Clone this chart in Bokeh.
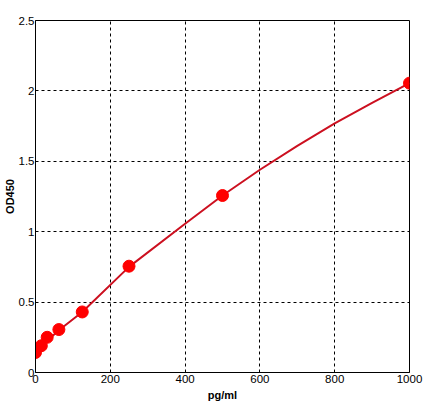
from bokeh.plotting import figure
from bokeh.embed import file_html
from bokeh.resources import INLINE
from bokeh.models import FixedTicker

# standards (pg/ml) and measured OD450
conc = [0, 15.6, 31.25, 62.5, 125, 250, 500, 1000]
od = [0.142, 0.19, 0.25, 0.305, 0.43, 0.755, 1.257, 2.055]

# fitted curve
curve_x = [0, 15.6, 31.25, 62.5, 125, 250, 400, 500, 600, 700, 800, 900, 1000]
curve_y = [0.145, 0.185, 0.225, 0.3, 0.43, 0.75, 1.056, 1.257, 1.44, 1.61, 1.77, 1.915, 2.055]

x_ticks = [0, 200, 400, 600, 800, 1000]
y_ticks = [0, 0.5, 1, 1.5, 2, 2.5]
y_labels = ["0", "0.5", "1", "1.5", "2", "2.5"]

p = figure(width=429, height=405, output_backend="svg", toolbar_location=None,
           x_range=(0, 1000), y_range=(0, 2.5),
           min_border_left=35, min_border_top=20, min_border_right=20, min_border_bottom=33)

p.background_fill_color = "white"
p.border_fill_color = "white"
p.outline_line_color = "black"
p.outline_line_width = 1
p.outline_line_alpha = 1

for ax in (p.xaxis[0], p.yaxis[0]):
    ax.major_tick_in = 0
    ax.major_tick_out = 0
    ax.minor_tick_line_color = None
    ax.axis_line_color = "black"
    ax.major_label_text_font = "Liberation Sans"
    ax.major_label_text_font_size = "11.5px"
    ax.major_label_text_color = "black"
    ax.axis_label_text_font = "Liberation Sans"
    ax.axis_label_text_font_size = "11px"
    ax.axis_label_text_font_style = "bold"
    ax.axis_label_text_color = "black"

p.xaxis.major_label_standoff = 2
p.xaxis.axis_label_standoff = 3
p.yaxis.major_label_standoff = 1
p.yaxis.axis_label_standoff = 0

p.xaxis.ticker = FixedTicker(ticks=x_ticks)
p.yaxis.ticker = FixedTicker(ticks=y_ticks)
p.yaxis.major_label_overrides = {t: l for t, l in zip(y_ticks, y_labels)}
p.xaxis.axis_label = "pg/ml"
p.yaxis.axis_label = "OD450"

p.xgrid.grid_line_color = "black"
p.ygrid.grid_line_color = "black"
p.xgrid.grid_line_dash = "3 3"
p.ygrid.grid_line_dash = "3 3"
p.xgrid.grid_line_width = 1
p.ygrid.grid_line_width = 1

p.line(curve_x, curve_y, line_color="#CC1020", line_width=2)
p.scatter(conc, od, size=12, fill_color="#FF0000", line_color="#FF0000")

open("out.html", "w").write(file_html(p, INLINE))
